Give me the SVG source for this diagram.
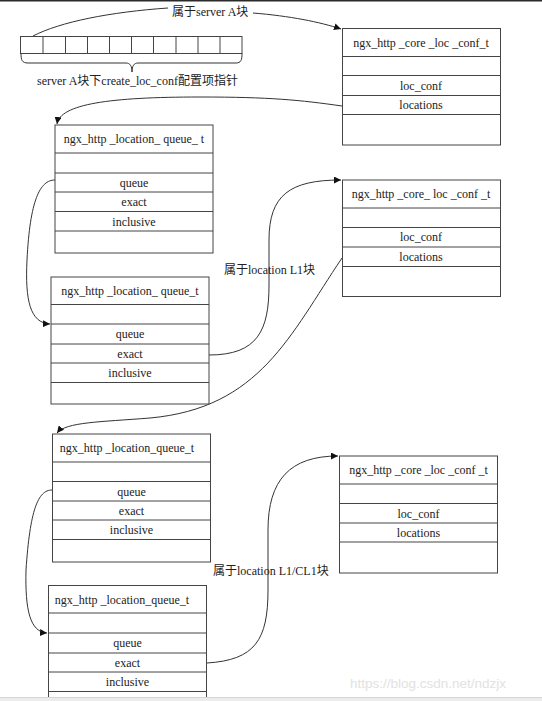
<svg xmlns="http://www.w3.org/2000/svg" width="542" height="701" viewBox="0 0 542 701">
<defs>
<marker id="arr" viewBox="0 0 10 10" refX="10" refY="5" markerWidth="7" markerHeight="7" markerUnits="userSpaceOnUse" orient="auto">
<path d="M0,0 L10,5 L0,10 z" fill="#111"/>
</marker>
<style>
.box{fill:#fff;stroke:#444;stroke-width:1}
.ln{stroke:#444;stroke-width:1}
.t{font-family:"Liberation Serif","Noto Sans CJK SC",serif;font-size:12px;fill:#222;text-anchor:middle}
.lbl{font-family:"Liberation Serif","Noto Sans CJK SC",serif;font-size:12px;fill:#222}
.c{fill:none;stroke:#333;stroke-width:1}
</style>
</defs>
<rect width="542" height="701" fill="#fff"/>
<rect x="0" y="0" width="542" height="1.5" fill="#2a2a2a"/>

<g id="connectors">
<path class="c" d="M33,36 C60,22 110,12 168,8"/>
<path class="c" d="M253,13 C290,16 320,22 341,29" marker-end="url(#arr)"/>
<path class="c" d="M342,106 C300,100 270,97 200,97 C110,97 60,104 57,124" marker-end="url(#arr)"/>
<path class="c" d="M55,180 C40,180 30,200 27,260 C25,300 30,323 50,324" marker-end="url(#arr)"/>
<path class="c" d="M209,355 C258,355 269,330 269,285 L269,240 C269,195 290,180 341,180" marker-end="url(#arr)"/>
<path class="c" d="M342,258 C290,335 260,408 150,418 C100,422 66,422 57,433" marker-end="url(#arr)"/>
<path class="c" d="M52,490 C38,490 30,510 26,570 C25,610 30,632 47,633" marker-end="url(#arr)"/>
<path class="c" d="M207,663 C255,660 268,640 268,590 L268,530 C268,480 290,456 338,456" marker-end="url(#arr)"/>
</g>

<g id="label_serverA"><text class="lbl" x="172" y="16">属于server A块</text></g>
<g id="label_L1"><text class="lbl" x="224" y="274">属于location L1块</text></g>
<g id="label_L1CL1"><text class="lbl" x="213" y="575">属于location L1/CL1块</text></g>

<g id="array">
<rect class="box" x="20.5" y="36.5" width="221.5" height="17"/>
<path class="ln" d="M43,36.5V53.5M65.5,36.5V53.5M87.5,36.5V53.5M109.5,36.5V53.5M131.5,36.5V53.5M153.5,36.5V53.5M176,36.5V53.5M198,36.5V53.5M220,36.5V53.5"/>
<path class="c" d="M21,53.5 C21,60 22,63 28,63 L126,63 C130,63 132,66 132,72 C132,66 134,63 138,63 L236,63 C241,63 242,60 242,53.5"/>
<text class="lbl" x="37" y="85">server A块下create_loc_conf配置项指针</text>
</g>

<g id="core1">
<rect class="box" x="342.5" y="28.5" width="158" height="116.5"/>
<path class="ln" d="M342.5,56.5H500.5M342.5,75.5H500.5M342.5,95.5H500.5M342.5,114.5H500.5"/>
<text class="t" x="421" y="46.5">ngx_http _core _loc _conf_t</text>
<text class="t" x="421" y="89.5">loc_conf</text>
<text class="t" x="421" y="109">locations</text>
</g>

<g id="queue1">
<rect class="box" x="55" y="125" width="158" height="128"/>
<path class="ln" d="M55,153H213M55,173H213M55,192H213M55,211.5H213M55,231H213"/>
<text class="t" x="134" y="143">ngx_http _location_ queue_ t</text>
<text class="t" x="134" y="186.5">queue</text>
<text class="t" x="134" y="206">exact</text>
<text class="t" x="134" y="225.5">inclusive</text>
</g>

<g id="queue2">
<rect class="box" x="51" y="277" width="158" height="127"/>
<path class="ln" d="M51,304.5H209M51,324H209M51,344H209M51,363H209M51,382.5H209"/>
<text class="t" x="130" y="295">ngx_http _location_ queue_t</text>
<text class="t" x="130" y="338">queue</text>
<text class="t" x="130" y="357.5">exact</text>
<text class="t" x="130" y="377">inclusive</text>
</g>

<g id="core2">
<rect class="box" x="342.5" y="180" width="158" height="116.5"/>
<path class="ln" d="M342.5,208H500.5M342.5,227.5H500.5M342.5,247H500.5M342.5,266.5H500.5"/>
<text class="t" x="421" y="198">ngx_http _core_ loc _conf _t</text>
<text class="t" x="421" y="241">loc_conf</text>
<text class="t" x="421" y="260.5">locations</text>
</g>

<g id="queue3">
<rect class="box" x="52.5" y="434" width="158" height="128"/>
<path class="ln" d="M52.5,462H210.5M52.5,481.5H210.5M52.5,501H210.5M52.5,520H210.5M52.5,539.5H210.5"/>
<text class="t" x="127" y="452">ngx_http _location_queue_t</text>
<text class="t" x="131.5" y="495.5">queue</text>
<text class="t" x="131.5" y="515">exact</text>
<text class="t" x="131.5" y="534">inclusive</text>
</g>

<g id="core3">
<rect class="box" x="339.5" y="456" width="158" height="117"/>
<path class="ln" d="M339.5,484H497.5M339.5,503.5H497.5M339.5,523H497.5M339.5,542H497.5"/>
<text class="t" x="418.5" y="474">ngx_http _core _loc _conf _t</text>
<text class="t" x="418.5" y="517.5">loc_conf</text>
<text class="t" x="418.5" y="537">locations</text>
</g>

<g id="queue4">
<rect class="box" x="48.5" y="585.5" width="158" height="130"/>
<path class="ln" d="M48.5,613H206.5M48.5,633H206.5M48.5,653H206.5M48.5,672H206.5M48.5,691.5H206.5"/>
<text class="t" x="122" y="603.5">ngx_http _location_queue_t</text>
<text class="t" x="127.5" y="647">queue</text>
<text class="t" x="127.5" y="666.5">exact</text>
<text class="t" x="127.5" y="686">inclusive</text>
</g>

<text x="350" y="688" font-family="'Liberation Sans',Arial,sans-serif" font-size="13.5" fill="#e2e2e2">https://blog.csdn.net/ndzjx</text>
<rect x="0" y="697.5" width="542" height="3.5" fill="#ececec"/>
<line x1="0" y1="697.5" x2="542" y2="697.5" stroke="#d6d6d6" stroke-width="1"/>
</svg>
